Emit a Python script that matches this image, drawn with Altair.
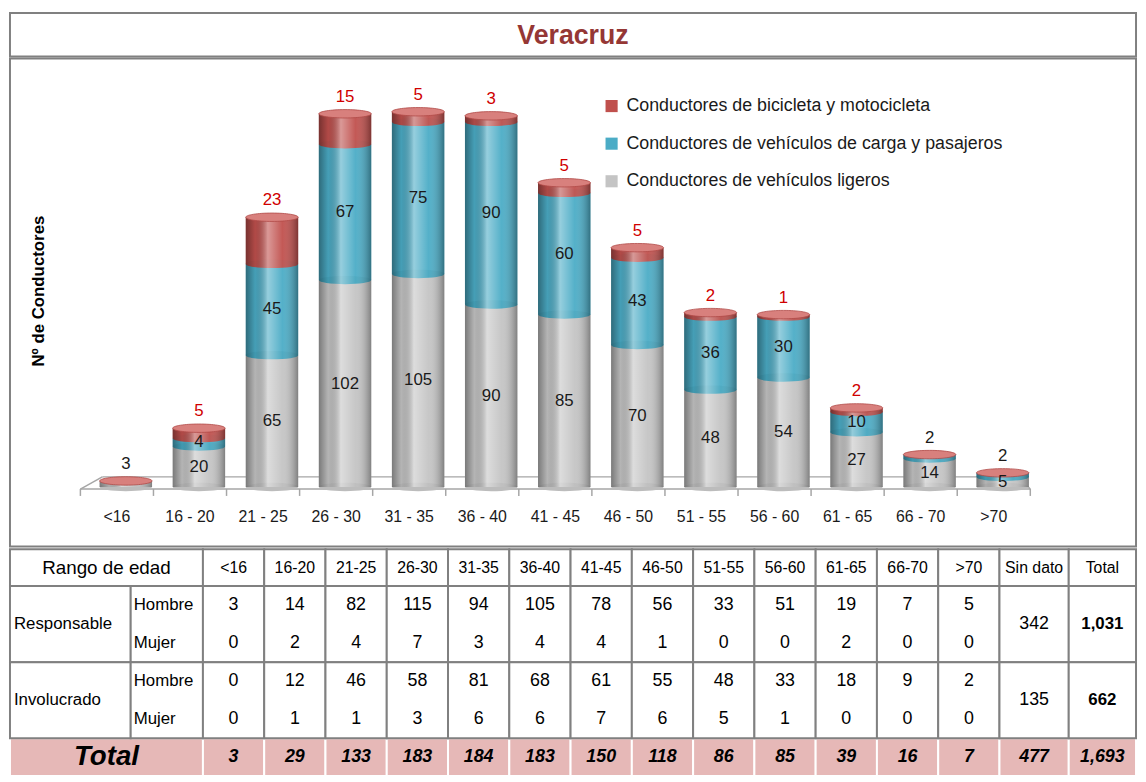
import altair as alt
import pandas as pd

# ---------------- data ----------------
categories = ["<16", "16 - 20", "21 - 25", "26 - 30", "31 - 35", "36 - 40", "41 - 45",
              "46 - 50", "51 - 55", "56 - 60", "61 - 65", "66 - 70", ">70"]
light = [3, 20, 65, 102, 105, 90, 85, 70, 48, 54, 27, 14, 5]
cargo = [0, 4, 45, 67, 75, 90, 60, 43, 36, 30, 10, 2, 2]
bike = [0, 5, 23, 15, 5, 3, 5, 5, 2, 1, 2, 0, 0]
series_names = ["Conductores de bicicleta y motocicleta",
                "Conductores de vehículos de carga y pasajeros",
                "Conductores de vehículos ligeros"]

table_ages = ["<16", "16-20", "21-25", "26-30", "31-35", "36-40", "41-45",
              "46-50", "51-55", "56-60", "61-65", "66-70", ">70"]
resp_hombre = [3, 14, 82, 115, 94, 105, 78, 56, 33, 51, 19, 7, 5]
resp_mujer = [0, 2, 4, 7, 3, 4, 4, 1, 0, 0, 2, 0, 0]
inv_hombre = [0, 12, 46, 58, 81, 68, 61, 55, 48, 33, 18, 9, 2]
inv_mujer = [0, 1, 1, 3, 6, 6, 7, 6, 5, 1, 0, 0, 0]
col_totals = [3, 29, 133, 183, 184, 183, 150, 118, 86, 85, 39, 16, 7]
sin_dato = ["342", "135", "477"]
row_totals = ["1,031", "662", "1,693"]

# ---------------- style / layout ----------------
series_colors = ["#c0504d", "#4bacc6", "#c4c4c4"]
seam_colors = {"bike": "#b9504d", "cargo": "#46a6bf", "light": "#bcbcbc"}
lid_color = "#d8807d"
RED_TXT = "#d00000"
FONT = "Liberation Sans, Arial, sans-serif"
NARROW = "Liberation Sans Narrow, Arial Narrow, Liberation Sans, sans-serif"

W = 1138
H_TITLE = 44
H_CHART = 493
H_TABLE = 229
PPU = 2.05        # px per unit
BASE = 433        # baseline px from top of chart panel
STEP = 74.5       # px per category
FIRST = 104       # px of first category center
BAR_W = 53
BAR_SHIFT = 9

n = len(categories)
xs = alt.Scale(domain=[-FIRST / STEP, (W - FIRST) / STEP], nice=False, zero=False)
ys = alt.Scale(domain=[-(H_CHART - BASE) / PPU, BASE / PPU], nice=False, zero=False)

# ---------------- bar chart data ----------------
seg_rows, seam_rows, center_lab, above_lab, tot_rows = [], [], [], [], []
for i, c in enumerate(categories):
    base = 0
    for key, name, vals in [("light", series_names[2], light),
                            ("cargo", series_names[1], cargo),
                            ("bike", series_names[0], bike)]:
        v = vals[i]
        if v > 0:
            seg_rows.append(dict(idx=i, series=name, y0=base, y1=base + v))
            seam_rows.append(dict(idx=i, y=base, ecolor=seam_colors[key]))
            if key == "bike":
                above_lab.append(dict(idx=i, y=None, text=str(v), tcolor=RED_TXT))
            elif v <= 3:
                above_lab.append(dict(idx=i, y=None, text=str(v), tcolor="#1a1a1a"))
            else:
                center_lab.append(dict(idx=i, y=base + v / 2, text=str(v)))
        base += v
    tot_rows.append(dict(idx=i, total=base, cat=c))
    for r in above_lab:
        if r["idx"] == i and r["y"] is None:
            r["y"] = base

seg = pd.DataFrame(seg_rows)
seams = pd.DataFrame(seam_rows)
tots = pd.DataFrame(tot_rows)
clab = pd.DataFrame(center_lab)
alab = pd.DataFrame(above_lab)
ticks = pd.DataFrame({"t": [k - 0.5 for k in range(n + 1)]})
floor = pd.DataFrame({
    "x": [-0.5, -0.5, -0.2, n - 0.67],
    "x2": [n - 0.5, -0.2, n - 0.67, n - 0.5],
    "y": [-1, -1, 5, 5],
    "y2": [-1, 5, 5, -1],
})

ELLIPSE = "M-1,0 A1,0.16,0,1,0,1,0 A1,0.16,0,1,0,-1,0 Z"

floor_l = alt.Chart(floor).mark_rule(color="#a6a6a6", strokeWidth=1.5).encode(
    x=alt.X("x:Q", scale=xs, axis=None), x2="x2:Q",
    y=alt.Y("y:Q", scale=ys, axis=None), y2="y2:Q")

tick_l = alt.Chart(ticks).mark_rule(color="#a6a6a6", strokeWidth=1.5).encode(
    x=alt.X("t:Q", scale=xs, axis=None),
    y=alt.value(BASE + 2), y2=alt.value(BASE + 9))

xlab_l = alt.Chart(tots).mark_text(font=FONT, fontSize=16, color="#1a1a1a", baseline="middle").encode(
    x=alt.X("idx:Q", scale=xs, axis=None), y=alt.value(BASE + 30), text="cat:N")

ytitle_l = alt.Chart(pd.DataFrame({"t": ["Nº de Conductores"]})).mark_text(
    font=FONT, fontSize=17, fontWeight="bold", angle=270, color="#000000").encode(
    x=alt.value(29), y=alt.value(235), text="t:N")

bars_l = alt.Chart(seg).mark_bar(size=BAR_W, xOffset=BAR_SHIFT, orient="vertical").encode(
    x=alt.X("idx:Q", scale=xs, axis=None),
    y=alt.Y("y0:Q", scale=ys, axis=None), y2="y1:Q",
    color=alt.Color("series:N",
                    scale=alt.Scale(domain=series_names, range=series_colors),
                    legend=alt.Legend(orient="none", legendX=599, legendY=85, title=None,
                                      labelFont=FONT, labelFontSize=18, labelColor="#1a1a1a",
                                      labelLimit=600,
                                      symbolType="square", symbolSize=150, symbolStrokeWidth=0,
                                      rowPadding=20, labelOffset=6)))

seam_l = alt.Chart(seams).mark_point(shape=ELLIPSE, size=BAR_W ** 2, filled=True, opacity=1,
                                     xOffset=BAR_SHIFT).encode(
    x=alt.X("idx:Q", scale=xs, axis=None),
    y=alt.Y("y:Q", scale=ys, axis=None),
    color=alt.Color("ecolor:N", scale=None))

shade = {"gradient": "linear", "x1": 0, "y1": 0, "x2": 1, "y2": 0,
         "stops": [{"offset": 0, "color": "rgba(0,0,0,0.38)"},
                   {"offset": 0.18, "color": "rgba(0,0,0,0.08)"},
                   {"offset": 0.42, "color": "rgba(255,255,255,0.42)"},
                   {"offset": 0.7, "color": "rgba(255,255,255,0.05)"},
                   {"offset": 1, "color": "rgba(0,0,0,0.35)"}]}
shade_l = alt.Chart(tots).mark_bar(size=BAR_W, xOffset=BAR_SHIFT, orient="vertical", fill=shade).encode(
    x=alt.X("idx:Q", scale=xs, axis=None),
    y=alt.Y("total:Q", scale=ys, axis=None), y2=alt.datum(0))

lid_l = alt.Chart(tots).mark_point(shape=ELLIPSE, size=BAR_W ** 2, filled=True, opacity=1,
                                   color=lid_color, stroke="#b04a47", strokeWidth=0.8,
                                   xOffset=BAR_SHIFT).encode(
    x=alt.X("idx:Q", scale=xs, axis=None),
    y=alt.Y("total:Q", scale=ys, axis=None))

clab_l = alt.Chart(clab).mark_text(font=FONT, fontSize=17, color="#1a1a1a", dx=BAR_SHIFT,
                                   baseline="middle").encode(
    x=alt.X("idx:Q", scale=xs, axis=None),
    y=alt.Y("y:Q", scale=ys, axis=None), text="text:N")

alab_l = alt.Chart(alab).mark_text(font=FONT, fontSize=17, dx=BAR_SHIFT, dy=-8,
                                   baseline="bottom").encode(
    x=alt.X("idx:Q", scale=xs, axis=None),
    y=alt.Y("y:Q", scale=ys, axis=None), text="text:N",
    color=alt.Color("tcolor:N", scale=None))

bar_chart = alt.layer(floor_l, tick_l, xlab_l, ytitle_l, bars_l, seam_l, shade_l, lid_l,
                      clab_l, alab_l).properties(width=W, height=H_CHART)

# ---------------- title ----------------
title_chart = alt.Chart(pd.DataFrame({"t": ["Veracruz"]})).mark_text(
    font=NARROW, fontSize=27, fontWeight="bold", color="#953735", baseline="middle").encode(
    x=alt.value(W / 2), y=alt.value(H_TITLE / 2 + 1), text="t:N").properties(width=W, height=H_TITLE)

# ---------------- table ----------------
G0, G1, G2 = 0, 122, 195
AGE_W = (1000 - G2) / len(table_ages)
age_edges = [G2 + k * AGE_W for k in range(len(table_ages) + 1)]
SD = (1000, 1070)
TT = (1070, W)
RY = [0, 37, 114, 191, H_TABLE]

cells, texts = [], []
PINK = "#e6b8b7"
GRAY = "#808080"
# total row (pink) first
ty0, ty1 = RY[3], RY[4]
tyc = (ty0 + ty1) / 2
cells.append(dict(x0=G0, x1=G2, y0=ty0, y1=ty1, fill=PINK, stroke="#ffffff"))
texts.append(dict(x=(G0 + G2) / 2, y=tyc, text="Total", size=28, kind="bi"))
for k in range(len(table_ages)):
    a, b = age_edges[k], age_edges[k + 1]
    cells.append(dict(x0=a, x1=b, y0=ty0, y1=ty1, fill=PINK, stroke="#ffffff"))
    texts.append(dict(x=(a + b) / 2, y=tyc, text=str(col_totals[k]), size=18, kind="bi"))
for (a, b), t in [(SD, sin_dato[2]), (TT, row_totals[2])]:
    cells.append(dict(x0=a, x1=b, y0=ty0, y1=ty1, fill=PINK, stroke="#ffffff"))
    texts.append(dict(x=(a + b) / 2, y=tyc, text=t, size=18, kind="bi"))

# header
h0, h1 = RY[0], RY[1]
hc = (h0 + h1) / 2
cells.append(dict(x0=G0, x1=G2, y0=h0, y1=h1, fill="#ffffff", stroke=GRAY))
texts.append(dict(x=(G0 + G2) / 2, y=hc, text="Rango de edad", size=19, kind="nc"))
for k, lab in enumerate(table_ages):
    a, b = age_edges[k], age_edges[k + 1]
    cells.append(dict(x0=a, x1=b, y0=h0, y1=h1, fill="#ffffff", stroke=GRAY))
    texts.append(dict(x=(a + b) / 2, y=hc, text=lab, size=16, kind="nc"))
for (a, b), t in [(SD, "Sin dato"), (TT, "Total")]:
    cells.append(dict(x0=a, x1=b, y0=h0, y1=h1, fill="#ffffff", stroke=GRAY))
    texts.append(dict(x=(a + b) / 2, y=hc, text=t, size=16, kind="nc"))

# body blocks
blocks = [("Responsable", resp_hombre, resp_mujer, sin_dato[0], row_totals[0], RY[1], RY[2]),
          ("Involucrado", inv_hombre, inv_mujer, sin_dato[1], row_totals[1], RY[2], RY[3])]
for name, hv, mv, sd, tt, y0, y1 in blocks:
    yc = (y0 + y1) / 2
    yh = y0 + (y1 - y0) * 0.25
    ym = y0 + (y1 - y0) * 0.75
    cells.append(dict(x0=G0, x1=G1, y0=y0, y1=y1, fill="#ffffff", stroke=GRAY))
    cells.append(dict(x0=G1, x1=G2, y0=y0, y1=y1, fill="#ffffff", stroke=GRAY))
    texts.append(dict(x=G0 + 4, y=yc, text=name, size=17, kind="nl"))
    texts.append(dict(x=G1 + 3, y=yh, text="Hombre", size=17, kind="nl"))
    texts.append(dict(x=G1 + 3, y=ym, text="Mujer", size=17, kind="nl"))
    for k in range(len(table_ages)):
        a, b = age_edges[k], age_edges[k + 1]
        cells.append(dict(x0=a, x1=b, y0=y0, y1=y1, fill="#ffffff", stroke=GRAY))
        texts.append(dict(x=(a + b) / 2, y=yh, text=str(hv[k]), size=18, kind="nc"))
        texts.append(dict(x=(a + b) / 2, y=ym, text=str(mv[k]), size=18, kind="nc"))
    cells.append(dict(x0=SD[0], x1=SD[1], y0=y0, y1=y1, fill="#ffffff", stroke=GRAY))
    texts.append(dict(x=(SD[0] + SD[1]) / 2, y=yc, text=sd, size=18, kind="nc"))
    cells.append(dict(x0=TT[0], x1=TT[1], y0=y0, y1=y1, fill="#ffffff", stroke=GRAY))
    texts.append(dict(x=(TT[0] + TT[1]) / 2, y=yc, text=tt, size=17, kind="bc"))

cells_df = pd.DataFrame(cells)
texts_df = pd.DataFrame(texts)
tx = alt.Scale(domain=[0, W], nice=False, zero=False)
tyS = alt.Scale(domain=[0, H_TABLE], reverse=True, nice=False, zero=False)

cell_l = alt.Chart(cells_df).mark_rect(strokeWidth=2).encode(
    x=alt.X("x0:Q", scale=tx, axis=None), x2="x1:Q",
    y=alt.Y("y0:Q", scale=tyS, axis=None), y2="y1:Q",
    fill=alt.Color("fill:N", scale=None), stroke=alt.Color("stroke:N", scale=None))


def text_layer(kind, **kw):
    d = texts_df[texts_df["kind"] == kind]
    return alt.Chart(d).mark_text(font=NARROW, color="#000000", baseline="middle", **kw).encode(
        x=alt.X("x:Q", scale=tx, axis=None),
        y=alt.Y("y:Q", scale=tyS, axis=None),
        text="text:N", size=alt.Size("size:Q", scale=None))


table_chart = alt.layer(
    cell_l,
    text_layer("nc", align="center"),
    text_layer("nl", align="left"),
    text_layer("bc", align="center", fontWeight="bold"),
    text_layer("bi", align="center", fontWeight="bold", fontStyle="italic"),
).properties(width=W, height=H_TABLE, view=alt.ViewBackground(stroke="transparent"))

chart = alt.vconcat(title_chart, bar_chart, table_chart, spacing=0).properties(
    padding=0).configure_view(stroke=GRAY, strokeWidth=2)

chart.save("out.html", embed_options={"renderer": "svg", "actions": False})
